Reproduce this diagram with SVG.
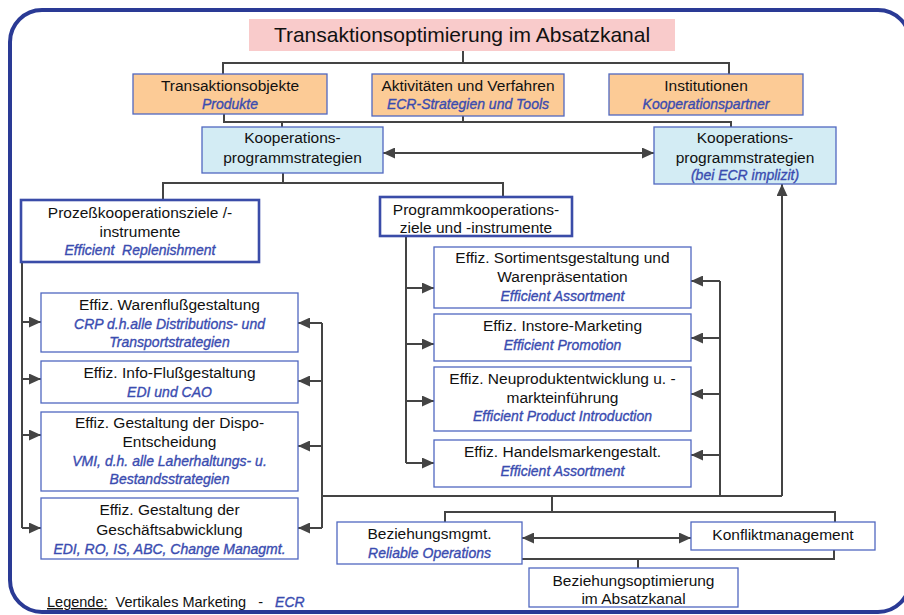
<svg xmlns="http://www.w3.org/2000/svg" width="904" height="615" viewBox="0 0 904 615">
  <defs>
    <marker id="arrow" viewBox="0 0 12 11" refX="12" refY="5.5" markerWidth="12" markerHeight="11" markerUnits="userSpaceOnUse" orient="auto-start-reverse">
      <path d="M0,0 L12,5.5 L0,11 z" fill="#444"/>
    </marker>
  </defs>
  <style>
    text { font-family: "Liberation Sans", Arial, sans-serif; text-anchor: middle; fill: #111; }
    .t { font-size: 15.5px; }
    .e { font-size: 14px; font-style: italic; fill: #3a4cb0; stroke: #3a4cb0; stroke-width: 0.35px; }
    .title { font-size: 21px; }
    .box { fill: #fff; stroke: #5068c0; stroke-width: 1.3; }
    .bold { fill: #fff; stroke: #3a4ca8; stroke-width: 2.6; }
    .orange { fill: #fccb96; stroke: #5068c0; stroke-width: 1.3; }
    .cyan { fill: #d3ecf4; stroke: #5068c0; stroke-width: 1.3; }
    .c { fill: none; stroke: #444; stroke-width: 2; }
    .a { fill: none; stroke: #444; stroke-width: 2; marker-end: url(#arrow); }
    .aa { fill: none; stroke: #444; stroke-width: 2; marker-start: url(#arrow); marker-end: url(#arrow); }
  </style>

  <!-- frame -->
  <rect x="10" y="10" width="900" height="602" rx="32" ry="32" fill="#fff" stroke="#2a3a95" stroke-width="4"/>

  <!-- connectors -->
  <g id="connectors">
    <path class="c" d="M463,51 V63 M223,74 V63 H729 V74"/>
    <path class="c" d="M224,114 V122 H731 V127 M463,116 V122 M282,122 V127"/>
    <path class="aa" d="M383,153 H654"/>
    <path class="c" d="M283,173 V183 M163,200 V183 H503 V197"/>
    <!-- left column -->
    <path class="c" d="M22,262 V528"/>
    <path class="a" d="M22,322 H41"/>
    <path class="a" d="M22,379 H41"/>
    <path class="a" d="M22,435 H41"/>
    <path class="a" d="M22,528 H41"/>
    <path class="c" d="M322,323 V528"/>
    <path class="a" d="M322,323 H298"/>
    <path class="a" d="M322,381 H298"/>
    <path class="a" d="M322,446 H298"/>
    <path class="a" d="M322,528 H298"/>
    <!-- right column -->
    <path class="c" d="M406,236 V463"/>
    <path class="a" d="M406,288 H434"/>
    <path class="a" d="M406,344 H434"/>
    <path class="a" d="M406,401 H434"/>
    <path class="a" d="M406,463 H434"/>
    <path class="c" d="M720,281 V496"/>
    <path class="a" d="M720,281 H691"/>
    <path class="a" d="M720,338 H691"/>
    <path class="a" d="M720,394 H691"/>
    <path class="a" d="M720,455 H691"/>
    <!-- collector line -->
    <path class="c" d="M322,496 H782"/>
    <path class="a" d="M782,496 V184"/>
    <!-- relationship part -->
    <path class="c" d="M552,496 V512 M445,522 V512 H835 V522"/>
    <path class="aa" d="M522,538 H691"/>
    <path class="c" d="M522,559 H834 V550 M638,559 V568"/>
  </g>

  <g id="title">
    <rect x="249" y="19" width="426" height="32" fill="#f9cbcb"/>
    <text class="title" x="462" y="42">Transaktionsoptimierung im Absatzkanal</text>
  </g>

  <g id="transaktionsobjekte">
    <rect class="orange" x="133" y="74" width="194" height="40"/>
    <text class="t" x="230" y="91">Transaktionsobjekte</text>
    <text class="e" x="230" y="109">Produkte</text>
  </g>
  <g id="aktivitaeten">
    <rect class="orange" x="372" y="74" width="192" height="42"/>
    <text class="t" x="468" y="91">Aktivitäten und Verfahren</text>
    <text class="e" x="468" y="109">ECR-Strategien und Tools</text>
  </g>
  <g id="institutionen">
    <rect class="orange" x="609" y="74" width="194" height="41"/>
    <text class="t" x="706" y="91">Institutionen</text>
    <text class="e" x="706" y="109">Kooperationspartner</text>
  </g>

  <g id="koop-links">
    <rect class="cyan" x="202" y="127" width="181" height="46"/>
    <text class="t" x="292.5" y="143">Kooperations-</text>
    <text class="t" x="292.5" y="163">programmstrategien</text>
  </g>
  <g id="koop-rechts">
    <rect class="cyan" x="654" y="127" width="182" height="57"/>
    <text class="t" x="745" y="143">Kooperations-</text>
    <text class="t" x="745" y="163">programmstrategien</text>
    <text class="e" x="745" y="180">(bei ECR implizit)</text>
  </g>

  <g id="prozess">
    <rect class="bold" x="21" y="200" width="238" height="62"/>
    <text class="t" x="140" y="218">Prozeßkooperationsziele /-</text>
    <text class="t" x="140" y="237">instrumente</text>
    <text class="e" x="140" y="255" xml:space="preserve">Efficient  Replenishment</text>
  </g>
  <g id="programm">
    <rect class="bold" x="380" y="197" width="192" height="39"/>
    <text class="t" x="476" y="215">Programmkooperations-</text>
    <text class="t" x="476" y="233">ziele und -instrumente</text>
  </g>

  <g id="warenfluss">
    <rect class="box" x="41" y="293" width="257" height="59"/>
    <text class="t" x="169.5" y="310">Effiz. Warenflußgestaltung</text>
    <text class="e" x="169.5" y="329">CRP d.h.alle Distributions- und</text>
    <text class="e" x="169.5" y="347">Transportstrategien</text>
  </g>
  <g id="infofluss">
    <rect class="box" x="41" y="361" width="257" height="42"/>
    <text class="t" x="169.5" y="378">Effiz. Info-Flußgestaltung</text>
    <text class="e" x="169.5" y="397">EDI und CAO</text>
  </g>
  <g id="dispo">
    <rect class="box" x="41" y="412" width="257" height="79"/>
    <text class="t" x="169.5" y="428">Effiz. Gestaltung der Dispo-</text>
    <text class="t" x="169.5" y="447">Entscheidung</text>
    <text class="e" x="169.5" y="466">VMI, d.h. alle Laherhaltungs- u.</text>
    <text class="e" x="169.5" y="484">Bestandsstrategien</text>
  </g>
  <g id="geschaeftsabwicklung">
    <rect class="box" x="41" y="498" width="257" height="61"/>
    <text class="t" x="169.5" y="515">Effiz. Gestaltung der</text>
    <text class="t" x="169.5" y="535">Geschäftsabwicklung</text>
    <text class="e" x="169.5" y="554">EDI, RO, IS, ABC, Change Managmt.</text>
  </g>

  <g id="sortiment">
    <rect class="box" x="434" y="247" width="257" height="61"/>
    <text class="t" x="562.5" y="263">Effiz. Sortimentsgestaltung und</text>
    <text class="t" x="562.5" y="282">Warenpräsentation</text>
    <text class="e" x="562.5" y="301">Efficient Assortment</text>
  </g>
  <g id="instore">
    <rect class="box" x="434" y="314" width="257" height="47"/>
    <text class="t" x="562.5" y="331">Effiz. Instore-Marketing</text>
    <text class="e" x="562.5" y="350">Efficient Promotion</text>
  </g>
  <g id="neuprodukt">
    <rect class="box" x="434" y="367" width="257" height="64"/>
    <text class="t" x="562.5" y="384">Effiz. Neuproduktentwicklung u. -</text>
    <text class="t" x="562.5" y="403">markteinführung</text>
    <text class="e" x="562.5" y="421">Efficient Product Introduction</text>
  </g>
  <g id="handelsmarken">
    <rect class="box" x="434" y="440" width="257" height="47"/>
    <text class="t" x="562.5" y="457">Effiz. Handelsmarkengestalt.</text>
    <text class="e" x="562.5" y="476">Efficient Assortment</text>
  </g>

  <g id="beziehungsmgmt">
    <rect class="box" x="337" y="522" width="185" height="42"/>
    <text class="t" x="429.5" y="539">Beziehungsmgmt.</text>
    <text class="e" x="429.5" y="558">Reliable Operations</text>
  </g>
  <g id="konflikt">
    <rect class="box" x="691" y="522" width="184" height="28"/>
    <text class="t" x="783" y="540">Konfliktmanagement</text>
  </g>
  <g id="beziehungsoptimierung">
    <rect class="box" x="529" y="568" width="209" height="39"/>
    <text class="t" x="633.5" y="586">Beziehungsoptimierung</text>
    <text class="t" x="633.5" y="604">im Absatzkanal</text>
  </g>

  <g id="legende">
    <text x="47" y="607" style="text-anchor:start;font-size:14.5px" xml:space="preserve"><tspan text-decoration="underline">Legende:</tspan>  Vertikales Marketing   -   <tspan class="e" style="font-size:14px">ECR</tspan></text>
  </g>
</svg>
